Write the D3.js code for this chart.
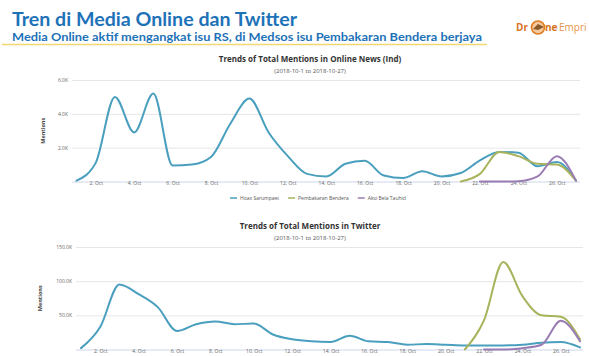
<!DOCTYPE html>
<html><head><meta charset="utf-8">
<script src="https://cdn.jsdelivr.net/npm/d3@7/dist/d3.min.js"></script>
<style>
html,body{margin:0;padding:0;background:#fff;}
svg{display:block;font-family:"Open Sans",Lato,sans-serif;}
</style></head>
<body><svg id="c" width="589" height="356"></svg>
<script>
// ---- data ----
const days = [1,2,3,4,5,6,7,8,9,10,11,12,13,14,15,16,17,18,19,20,21,22,23,24,25,26,27];
const tickDays = [2,4,6,8,10,12,14,16,18,20,22,24,26];
const tickLabels = ["2. Oct","4. Oct","6. Oct","8. Oct","10. Oct","12. Oct","14. Oct","16. Oct","18. Oct","20. Oct","22. Oct","24. Oct","26. Oct"];
const seriesNames = ["Hoax Sarumpaet","Pembakaran Bendera","Aksi Bela Tauhid"];
const seriesColors = ["#4a9fbe","#a8b35c","#9a7cb4"];

// Online news (mentions)
const onlineHoax = [50,1100,5000,2900,5200,950,1000,1450,3400,4900,2900,1500,450,300,1050,1220,350,200,600,300,500,1250,1750,1700,900,1150,50];
const onlineBendera = [null,null,null,null,null,null,null,null,null,null,null,null,null,null,null,null,null,null,null,null,0,450,1750,1500,1050,1000,50];
const onlineTauhid = [null,null,null,null,null,null,null,null,null,null,null,null,null,null,null,null,null,null,null,null,null,0,0,20,300,1500,50];
const onlineTicks = [2000,4000,6000];
const onlineTickLabels = ["2.0K","4.0K","6.0K"];

// Twitter (mentions)
const twHoax = [2000,33000,95000,81000,62000,27000,37000,41000,37000,38000,22000,15000,12000,11000,20000,12000,11000,7000,8000,7000,6000,6000,6000,7000,10000,11000,3000];
const twBendera = [null,null,null,null,null,null,null,null,null,null,null,null,null,null,null,null,null,null,null,null,0,43000,128000,78000,50000,48000,15000];
const twTauhid = [null,null,null,null,null,null,null,null,null,null,null,null,null,null,null,null,null,null,null,null,null,0,0,2000,7000,42000,12000];
const twTicks = [50000,100000,150000];
const twTickLabels = ["50.0K","100.0K","150.0K"];

const svg = d3.select("#c");

// ---- header ----
svg.append("text").attr("x",12).attr("y",26).attr("font-size",18).attr("font-weight",700)
  .attr("font-family","Lato, sans-serif")
  .attr("fill","#1d72b8").attr("textLength",285).attr("lengthAdjust","spacingAndGlyphs")
  .text("Tren di Media Online dan Twitter");
svg.append("text").attr("x",12).attr("y",41).attr("font-size",11.5).attr("font-weight",700)
  .attr("font-family","Lato, sans-serif")
  .attr("fill","#1d72b8").attr("textLength",470).attr("lengthAdjust","spacingAndGlyphs")
  .text("Media Online aktif mengangkat isu RS, di Medsos isu Pembakaran Bendera berjaya");
svg.append("line").attr("x1",2).attr("x2",487).attr("y1",44.5).attr("y2",44.5)
  .attr("stroke","#f2d872").attr("stroke-width",1.5);

// logo
const logo = svg.append("g");
logo.append("text").attr("x",516).attr("y",31).attr("font-size",10).attr("font-weight",700).attr("fill","#d8741f").text("Dr");
logo.append("circle").attr("cx",538).attr("cy",27.5).attr("r",6.5).attr("fill","#f4c89c").attr("stroke","#de7b22").attr("stroke-width",1.6);
logo.append("path").attr("d","M533,29 L538,24 L544,27 L538,30 Z").attr("fill","#8a5a2b");
logo.append("text").attr("x",545).attr("y",31).attr("font-size",10).attr("font-weight",700).attr("fill","#d8741f").text("ne");
logo.append("text").attr("x",559).attr("y",31).attr("font-size",10).attr("fill","#e8954a").text("Empri");

// ---- chart builder ----
function chart(cfg){
  const g = svg.append("g");
  const x = d3.scaleLinear().domain([1,27]).range([cfg.x0,cfg.x1]);
  const y = d3.scaleLinear().domain([0,cfg.ymax]).range([cfg.yb,cfg.yt]);
  // title
  g.append("text").attr("x",310).attr("y",cfg.titleY).attr("text-anchor","middle")
    .attr("font-size",8).attr("font-weight",700).attr("fill","#333").text(cfg.title);
  g.append("text").attr("x",310).attr("y",cfg.titleY+11).attr("text-anchor","middle")
    .attr("font-size",6).attr("fill","#555").text("(2018-10-1 to 2018-10-27)");
  // grid
  const ya = d3.axisLeft(y).tickValues(cfg.ticks).tickSize(-(cfg.gx1-cfg.gx0))
    .tickFormat((d,i)=>cfg.tickLabels[i]);
  const yg = g.append("g").attr("transform",`translate(${cfg.gx0},0)`).call(ya);
  yg.select(".domain").remove();
  yg.selectAll(".tick line").attr("stroke","#e6e6e6");
  yg.selectAll(".tick text").attr("font-size",5).attr("fill","#666").attr("x",-4).attr("font-family","Open Sans, sans-serif");
  // baseline
  g.append("line").attr("x1",cfg.gx0).attr("x2",cfg.gx1).attr("y1",cfg.yb+0.5).attr("y2",cfg.yb+0.5).attr("stroke","#ccd6eb");
  // x axis
  const xa = d3.axisBottom(x).tickValues(tickDays).tickSize(0).tickFormat((d,i)=>tickLabels[i]);
  const xg = g.append("g").attr("transform",`translate(0,${cfg.yb})`).call(xa);
  xg.select(".domain").remove();
  xg.selectAll(".tick text").attr("font-size",5).attr("fill","#666").attr("dy",0).attr("y",cfg.xLabelDy).attr("font-family","Open Sans, sans-serif");
  // y title
  g.append("text").attr("transform",`translate(${cfg.ytX},${(cfg.yt+cfg.yb)/2}) rotate(-90)`)
    .attr("text-anchor","middle").attr("font-size",5.5).attr("font-weight",700).attr("fill","#444").text("Mentions");
  // lines
  const line = d3.line().defined(d=>d[1]!==null).x(d=>x(d[0])).y(d=>y(d[1])).curve(d3.curveMonotoneX);
  cfg.series.forEach((s,i)=>{
    g.append("path").datum(days.map((d,j)=>[d,s[j]])).attr("d",line)
      .attr("fill","none").attr("stroke",seriesColors[i]).attr("stroke-width",2)
      .attr("stroke-linejoin","round").attr("stroke-linecap","round");
  });
  return g;
}

chart({title:"Trends of Total Mentions in Online News (Ind)",titleY:62,
  x0:76.5,x1:576,gx0:72,gx1:580,yb:181.5,yt:80,ymax:6000,
  ticks:onlineTicks,tickLabels:onlineTickLabels,ytX:45,xLabelDy:3,
  series:[onlineHoax,onlineBendera,onlineTauhid]});

chart({title:"Trends of Total Mentions in Twitter",titleY:229,
  x0:81,x1:580,gx0:76,gx1:583,yb:349.5,yt:247,ymax:150000,
  ticks:twTicks,tickLabels:twTickLabels,ytX:42,xLabelDy:3,
  series:[twHoax,twBendera,twTauhid]});

// legend (online chart)
const legend = svg.append("g").attr("transform","translate(0,198)");
let lx = 230;
seriesNames.forEach((n,i)=>{
  legend.append("line").attr("x1",lx).attr("x2",lx+7).attr("y1",0).attr("y2",0).attr("stroke",seriesColors[i]).attr("stroke-width",1.5);
  const t = legend.append("text").attr("x",lx+10).attr("y",2).attr("font-size",5).attr("fill","#555").text(n);
  lx += 10 + t.node().getComputedTextLength() + 9;
});
</script></body></html>
